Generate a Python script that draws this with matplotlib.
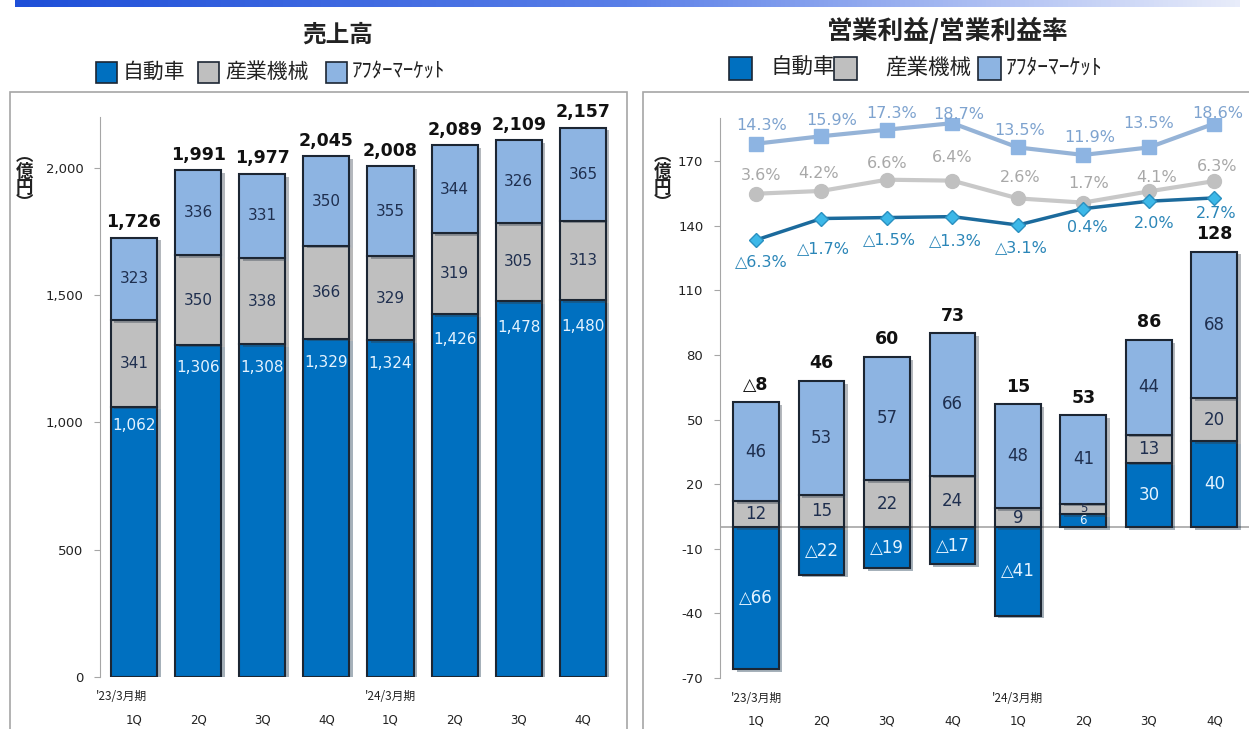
import matplotlib
matplotlib.use("Agg")
import matplotlib.pyplot as plt
import matplotlib.patheffects as pe
from matplotlib.colors import LinearSegmentedColormap
import numpy as np

plt.rcParams['font.family'] = ['DejaVu Sans', 'Noto Sans CJK JP']
plt.rcParams['axes.unicode_minus'] = False

JP = ['Noto Sans CJK JP', 'DejaVu Sans']

quarters = ['1Q', '2Q', '3Q', '4Q', '1Q', '2Q', '3Q', '4Q']
periods = ["'23/3月期", "'24/3月期"]
segments = ['自動車', '産業機械', 'ｱﾌﾀｰﾏｰｹｯﾄ']

# 売上高 (億円)
sales_auto = [1062, 1306, 1308, 1329, 1324, 1426, 1478, 1480]
sales_ind = [341, 350, 338, 366, 329, 319, 305, 313]
sales_after = [323, 336, 331, 350, 355, 344, 326, 365]
sales_total = [1726, 1991, 1977, 2045, 2008, 2089, 2109, 2157]

# 営業利益 (億円)
op_auto = [-66, -22, -19, -17, -41, 6, 30, 40]
op_ind = [12, 15, 22, 24, 9, 5, 13, 20]
op_after = [46, 53, 57, 66, 48, 41, 44, 68]
op_total = [-8, 46, 60, 73, 15, 53, 86, 128]

# 営業利益率 (%)
margin_auto = [-6.3, -1.7, -1.5, -1.3, -3.1, 0.4, 2.0, 2.7]
margin_ind = [3.6, 4.2, 6.6, 6.4, 2.6, 1.7, 4.1, 6.3]
margin_after = [14.3, 15.9, 17.3, 18.7, 13.5, 11.9, 13.5, 18.6]

C_AUTO = '#0070C0'
C_IND = '#BFBFBF'
C_AFTER = '#8DB4E2'
EDGE = '#1C2633'
TXT_DARK = '#1F2F4F'
TXT_LIGHT = '#E4F3FF'

W, H = 1249, 729


def fmt(v):
    s = f'{abs(v):,}'
    return ('△' + s) if v < 0 else s


def pct(v):
    return ('△' if v < 0 else '') + f'{abs(v):.1f}%'


shadow = [pe.SimplePatchShadow(offset=(2.5, -2), alpha=0.35), pe.Normal()]

fig = plt.figure(figsize=(W / 100, H / 100), dpi=100)

# gradient banner along the top edge
ban = fig.add_axes([15 / W, 1 - 7 / H, 1225 / W, 7 / H])
grad = np.linspace(0, 1, 256).reshape(1, -1)
cmap = LinearSegmentedColormap.from_list('ban', ['#1E4FD8', '#5A7FE8', '#E8ECFA'])
ban.imshow(grad, aspect='auto', cmap=cmap)
ban.axis('off')

# panel frames
for x0, w in [(10, 617), (643, 620)]:
    fig.patches.append(plt.Rectangle((x0 / W, -0.01), w / W, 1 - 92 / H + 0.01,
                                     transform=fig.transFigure, fill=False,
                                     edgecolor='#A6A6A6', linewidth=1.2, zorder=0))

# titles
fig.text(338 / W, 1 - 35 / H, '売上高', family=JP, fontsize=17, fontweight='bold',
         ha='center', va='center', color='#222222')
fig.text(948 / W, 1 - 31 / H, '営業利益/営業利益率', family=JP, fontsize=18.5,
         fontweight='bold', ha='center', va='center', color='#222222')


def legend_row(boxes, texts, y, size, fs):
    cols = [C_AUTO, C_IND, C_AFTER]
    for bx, tx, col, lab in zip(boxes, texts, cols, segments):
        fig.patches.append(plt.Rectangle((bx / W, 1 - (y + size / 2) / H), size / W, size / H,
                                         transform=fig.transFigure, facecolor=col,
                                         edgecolor=EDGE, linewidth=1.2))
        fig.text(tx / W, 1 - y / H, lab, family=JP, fontsize=fs,
                 ha='left', va='center', color='#222222')


legend_row([96, 198, 326], [123, 225, 352], 72, 21, 15)
legend_row([729, 834, 978], [770, 885, 1006], 68, 23, 15.5)

x = np.arange(len(quarters))

# ---- 売上高 ----
ax1 = fig.add_axes([100 / W, 1 - 677 / H, 515 / W, 560 / H])
b1 = ax1.bar(x, sales_auto, 0.72, color=C_AUTO, edgecolor=EDGE, linewidth=1.5)
b2 = ax1.bar(x, sales_ind, 0.72, bottom=sales_auto, color=C_IND, edgecolor=EDGE, linewidth=1.5)
bot2 = np.add(sales_auto, sales_ind)
b3 = ax1.bar(x, sales_after, 0.72, bottom=bot2, color=C_AFTER, edgecolor=EDGE, linewidth=1.5)
for bars in (b1, b2, b3):
    for r in bars:
        r.set_path_effects(shadow)

for i in x:
    ax1.text(i, sales_auto[i] * 0.93, fmt(sales_auto[i]), ha='center', va='center',
             fontsize=11, color=TXT_LIGHT)
    ax1.text(i, sales_auto[i] + sales_ind[i] / 2, fmt(sales_ind[i]), ha='center',
             va='center', fontsize=11, color=TXT_DARK)
    ax1.text(i, bot2[i] + sales_after[i] / 2, fmt(sales_after[i]), ha='center',
             va='center', fontsize=11, color=TXT_DARK)
    ax1.text(i, bot2[i] + sales_after[i] + 25, fmt(sales_total[i]), ha='center',
             va='bottom', fontsize=12.5, fontweight='bold', color='#111111')

ax1.set_ylim(0, 2200)
ax1.set_xlim(-0.53, 7.5)
ticks1 = [0, 500, 1000, 1500, 2000]
ax1.set_yticks(ticks1)
ax1.set_yticklabels([f'{v:,}' for v in ticks1])
ax1.set_xticks([])
for s in ['top', 'right', 'bottom']:
    ax1.spines[s].set_visible(False)
ax1.spines['left'].set_color('#A6A6A6')
ax1.tick_params(axis='y', length=4, color='#A6A6A6', labelsize=9.5, labelcolor='#222222', pad=8)
ax1.patch.set_alpha(0)

# ---- 営業利益 ----
ax2 = fig.add_axes([720 / W, 1 - 678 / H, 529 / W, 560 / H])
ax2.axhline(0, color='#A6A6A6', linewidth=1.2, zorder=1)
neg = np.array(op_auto) < 0
ind_base = np.where(neg, 0, op_auto)
after_base = ind_base + np.array(op_ind)
c1 = ax2.bar(x, op_auto, 0.70, color=C_AUTO, edgecolor=EDGE, linewidth=1.5, zorder=2)
c2 = ax2.bar(x, op_ind, 0.70, bottom=ind_base, color=C_IND, edgecolor=EDGE, linewidth=1.5, zorder=2)
c3 = ax2.bar(x, op_after, 0.70, bottom=after_base, color=C_AFTER, edgecolor=EDGE,
             linewidth=1.5, zorder=2)
for bars in (c1, c2, c3):
    for r in bars:
        r.set_path_effects(shadow)

for i in x:
    fs_auto = 12 if abs(op_auto[i]) > 8 else 8.5
    ax2.text(i, op_auto[i] / 2, fmt(op_auto[i]), ha='center', va='center',
             fontsize=fs_auto, color=TXT_LIGHT, zorder=5)
    fs_ind = 12 if op_ind[i] > 6 else 8.5
    ax2.text(i, ind_base[i] + op_ind[i] / 2, fmt(op_ind[i]), ha='center', va='center',
             fontsize=fs_ind, color=TXT_DARK, zorder=5)
    ax2.text(i, after_base[i] + op_after[i] / 2, fmt(op_after[i]), ha='center',
             va='center', fontsize=12, color=TXT_DARK, zorder=5)
    ax2.text(i, after_base[i] + op_after[i] + 4, fmt(op_total[i]), ha='center',
             va='bottom', fontsize=12.5, fontweight='bold', color='#111111', zorder=5)

ax2.set_ylim(-70, 190)
ax2.set_xlim(-0.55, 7.53)
ax2.set_yticks([-70, -40, -10, 20, 50, 80, 110, 140, 170])
ax2.set_xticks([])
for s in ['top', 'right', 'bottom']:
    ax2.spines[s].set_visible(False)
ax2.spines['left'].set_color('#A6A6A6')
ax2.tick_params(axis='y', length=4, color='#A6A6A6', labelsize=9.5, labelcolor='#222222', pad=8)
ax2.patch.set_alpha(0)

# 利益率 on a hidden secondary scale
tw = ax2.twinx()
tw.set_ylim(-100.0, 19.8)
tw.axis('off')
tw.plot(x, margin_after, color='#95B3D7', linewidth=3, marker='s', markersize=10,
        markerfacecolor='#8DB4E2', markeredgecolor='#8DB4E2', zorder=3)
tw.plot(x, margin_ind, color='#C8C8C8', linewidth=3, marker='o', markersize=10,
        markerfacecolor='#C0C0C0', markeredgecolor='#C0C0C0', zorder=3)
tw.plot(x, margin_auto, color='#1B6A9C', linewidth=2.5, marker='D', markersize=7.5,
        markerfacecolor='#3DB8E8', markeredgecolor='#2A90C0', zorder=4)

off_after = [(6, 18), (10, 16), (5, 16), (6, 9), (2, 17), (6, 17), (0, 24), (3, 10)]
off_ind = [(5, 18), (-3, 17), (0, 16), (0, 23), (2, 21), (5, 19), (8, 14), (3, 15)]
off_auto = [(5, -22), (2, -30), (3, -22), (3, -24), (4, -23), (4, -19), (5, -22), (2, -16)]
for i in x:
    tw.annotate(pct(margin_after[i]), (i, margin_after[i]), xytext=off_after[i],
                textcoords='offset pixels', ha='center', va='center', fontsize=11.5,
                color='#7EA3CF')
    tw.annotate(pct(margin_ind[i]), (i, margin_ind[i]), xytext=off_ind[i],
                textcoords='offset pixels', ha='center', va='center', fontsize=11.5,
                color='#A8A8A8')
    tw.annotate(pct(margin_auto[i]), (i, margin_auto[i]), xytext=off_auto[i],
                textcoords='offset pixels', ha='center', va='center', fontsize=11.5,
                color='#2B86B8')

# category labels
for ax, p_off in [(ax1, -0.2), (ax2, 0.0)]:
    tr = ax.get_xaxis_transform()
    for i, q in enumerate(quarters):
        ax.text(i, -43 / 560, q, transform=tr, ha='center', va='center', fontsize=8.5,
                color='#222222')
    ax.text(0 + p_off, -20 / 560, periods[0], transform=tr, ha='center', va='center',
            fontsize=8.5, color='#222222', family=JP)
    ax.text(4, -20 / 560, periods[1], transform=tr, ha='center', va='center',
            fontsize=8.5, color='#222222', family=JP)

# unit labels
for xpix in [24, 662]:
    fig.text(xpix / W, 1 - 180 / H, '︵\n億\n円\n︶', family=JP, fontsize=12.5,
             fontweight='bold', ha='center', va='center', linespacing=0.8, color='#222222')

fig.savefig('out.png', dpi=100)
